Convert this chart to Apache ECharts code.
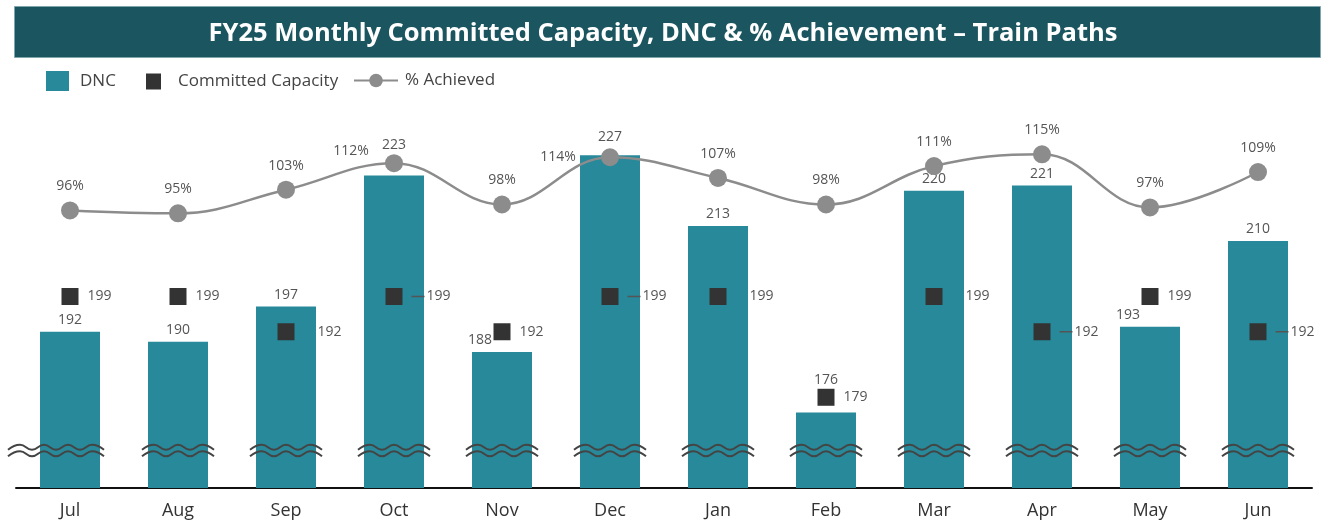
<!DOCTYPE html>
<html>
<head>
<meta charset="utf-8">
<script src="https://cdn.jsdelivr.net/npm/echarts@6/dist/echarts.min.js"></script>
<style>
  html, body { margin: 0; padding: 0; background: #fff; }
  #chart { width: 1326px; height: 523px; }
</style>
</head>
<body>
<div id="chart"></div>
<script>
// chart data
const months = ['Jul', 'Aug', 'Sep', 'Oct', 'Nov', 'Dec', 'Jan', 'Feb', 'Mar', 'Apr', 'May', 'Jun']
const dnc = [192, 190, 197, 223, 188, 227, 213, 176, 220, 221, 193, 210]
const committed = [199, 199, 192, 199, 192, 199, 199, 179, 199, 192, 199, 192]
const achieved = [96, 95, 103, 112, 98, 114, 107, 98, 111, 115, 97, 109]

// label tweaks so text does not collide (style only)
const barLabelShift = { Oct: [0, -19], Dec: [0, -6], Nov: [-22, 0], Feb: [0, -20], May: [-22, 0] }
const pctLabelShift = { Oct: [-43, 12], Dec: [-52, 24] }
const leaderLabels = ['Oct', 'Dec', 'Apr', 'Jun']
const breakAt = 168.5 // where the axis break marks sit on the DNC scale

const TEAL = '#27899a'
const DARK = '#333333'
const GREY = '#8c8c8c'
const FONT = '"Open Sans", sans-serif'

const chart = echarts.init(document.getElementById('chart'), null, { renderer: 'canvas' })

// small wavy "axis break" stroke
function wave(x0, x1, y) {
  const pts = []
  for (let x = x0, k = 0; x <= x1 + 0.1; x += 12, k++) {
    pts.push([x, y + (k % 2 === 0 ? 2.5 : -2.5)])
  }
  return pts
}

chart.setOption({
  animation: false,
  textStyle: { fontFamily: FONT },
  graphic: [{
    type: 'rect',
    left: 14, top: 6,
    shape: { width: 1306, height: 51 },
    style: { fill: '#1b5660', stroke: '#7fa6ad', lineWidth: 1 },
    z: 0
  }],
  title: {
    text: 'FY25 Monthly Committed Capacity, DNC & % Achievement – Train Paths',
    left: 'center',
    top: 16,
    textStyle: { color: '#fff', fontSize: 25.5, fontWeight: 'bold', fontFamily: FONT }
  },
  legend: [
    {
      data: [{ name: 'DNC', icon: 'rect' }], left: 41, top: 66, itemWidth: 23, itemHeight: 20,
      selectedMode: false,
      textStyle: { color: '#444', fontSize: 17, padding: [0, 0, 0, 6] }
    },
    {
      data: [{ name: 'Committed Capacity', icon: 'rect' }], left: 141, top: 68, itemWidth: 15, itemHeight: 16,
      selectedMode: false,
      textStyle: { color: '#444', fontSize: 17, padding: [0, 0, 0, 12] }
    },
    {
      data: ['% Achieved'], left: 348, top: 67, itemWidth: 44, itemHeight: 17,
      selectedMode: false,
      textStyle: { color: '#444', fontSize: 17, padding: [0, 0, 0, 2] }
    }
  ],
  grid: { left: 16, right: 14, top: 110, bottom: 35 },
  xAxis: {
    type: 'category',
    data: months,
    axisLine: { lineStyle: { color: '#111', width: 2 } },
    axisTick: { show: false },
    axisLabel: { color: '#333', fontSize: 18, margin: 14, fontFamily: FONT }
  },
  yAxis: [
    { type: 'value', min: 161, max: 236, show: false, splitLine: { show: false } },
    { type: 'value', min: 2, max: 130, show: false, splitLine: { show: false } }
  ],
  series: [
    {
      name: 'DNC',
      type: 'bar',
      barWidth: 60,
      itemStyle: { color: TEAL },
      z: 2,
      data: dnc.map((v, i) => ({
        value: v,
        label: { offset: barLabelShift[months[i]] || [0, 0] }
      })),
      label: { show: true, position: 'top', distance: 5, color: '#555', fontSize: 14 }
    },
    {
      name: 'breaks',
      type: 'custom',
      z: 5,
      silent: true,
      data: months.map((m, i) => [i, breakAt]),
      renderItem: function (params, api) {
        const p = api.coord([api.value(0), api.value(1)])
        const cs = params.coordSys
        const x0 = api.value(0) === 0 ? cs.x - 8 : p[0] - 36
        const x1 = p[0] + 36
        const style = { stroke: '#444', lineWidth: 2, fill: 'none' }
        return {
          type: 'group',
          children: [
            { type: 'polyline', shape: { points: wave(x0, x1, p[1] - 3), smooth: 0.5 }, style: style },
            { type: 'polyline', shape: { points: wave(x0, x1, p[1] + 3.5), smooth: 0.5 }, style: style }
          ]
        }
      }
    },
    {
      name: 'Committed Capacity',
      type: 'scatter',
      symbol: 'rect',
      symbolSize: 17,
      itemStyle: { color: DARK, opacity: 1 },
      z: 4,
      // labels of squares sitting inside a bar are pushed past the bar edge
      data: committed.map((v, i) => ({
        value: v,
        label: { distance: (v < dnc[i] && !leaderLabels.includes(months[i])) ? 23 : 9 }
      })),
      label: {
        show: true,
        position: 'right',
        color: '#555',
        fontSize: 14,
        formatter: p => leaderLabels.includes(months[p.dataIndex]) ? '{ln|}{v|' + p.value + '}' : String(p.value),
        rich: {
          ln: { width: 13, height: 1.5, backgroundColor: '#555' },
          v: { fontSize: 14, color: '#555', padding: [0, 0, 0, 2] }
        }
      }
    },
    {
      name: '% Achieved',
      type: 'line',
      yAxisIndex: 1,
      smooth: 0.4,
      symbol: 'circle',
      symbolSize: 18,
      lineStyle: { color: GREY, width: 2.5 },
      itemStyle: { color: GREY },
      z: 6,
      data: achieved.map((v, i) => ({
        value: v,
        label: { offset: pctLabelShift[months[i]] || [0, 0] }
      })),
      label: {
        show: true, position: 'top', distance: 8, color: '#555', fontSize: 14,
        formatter: '{c}%'
      }
    }
  ]
})
</script>
</body>
</html>
